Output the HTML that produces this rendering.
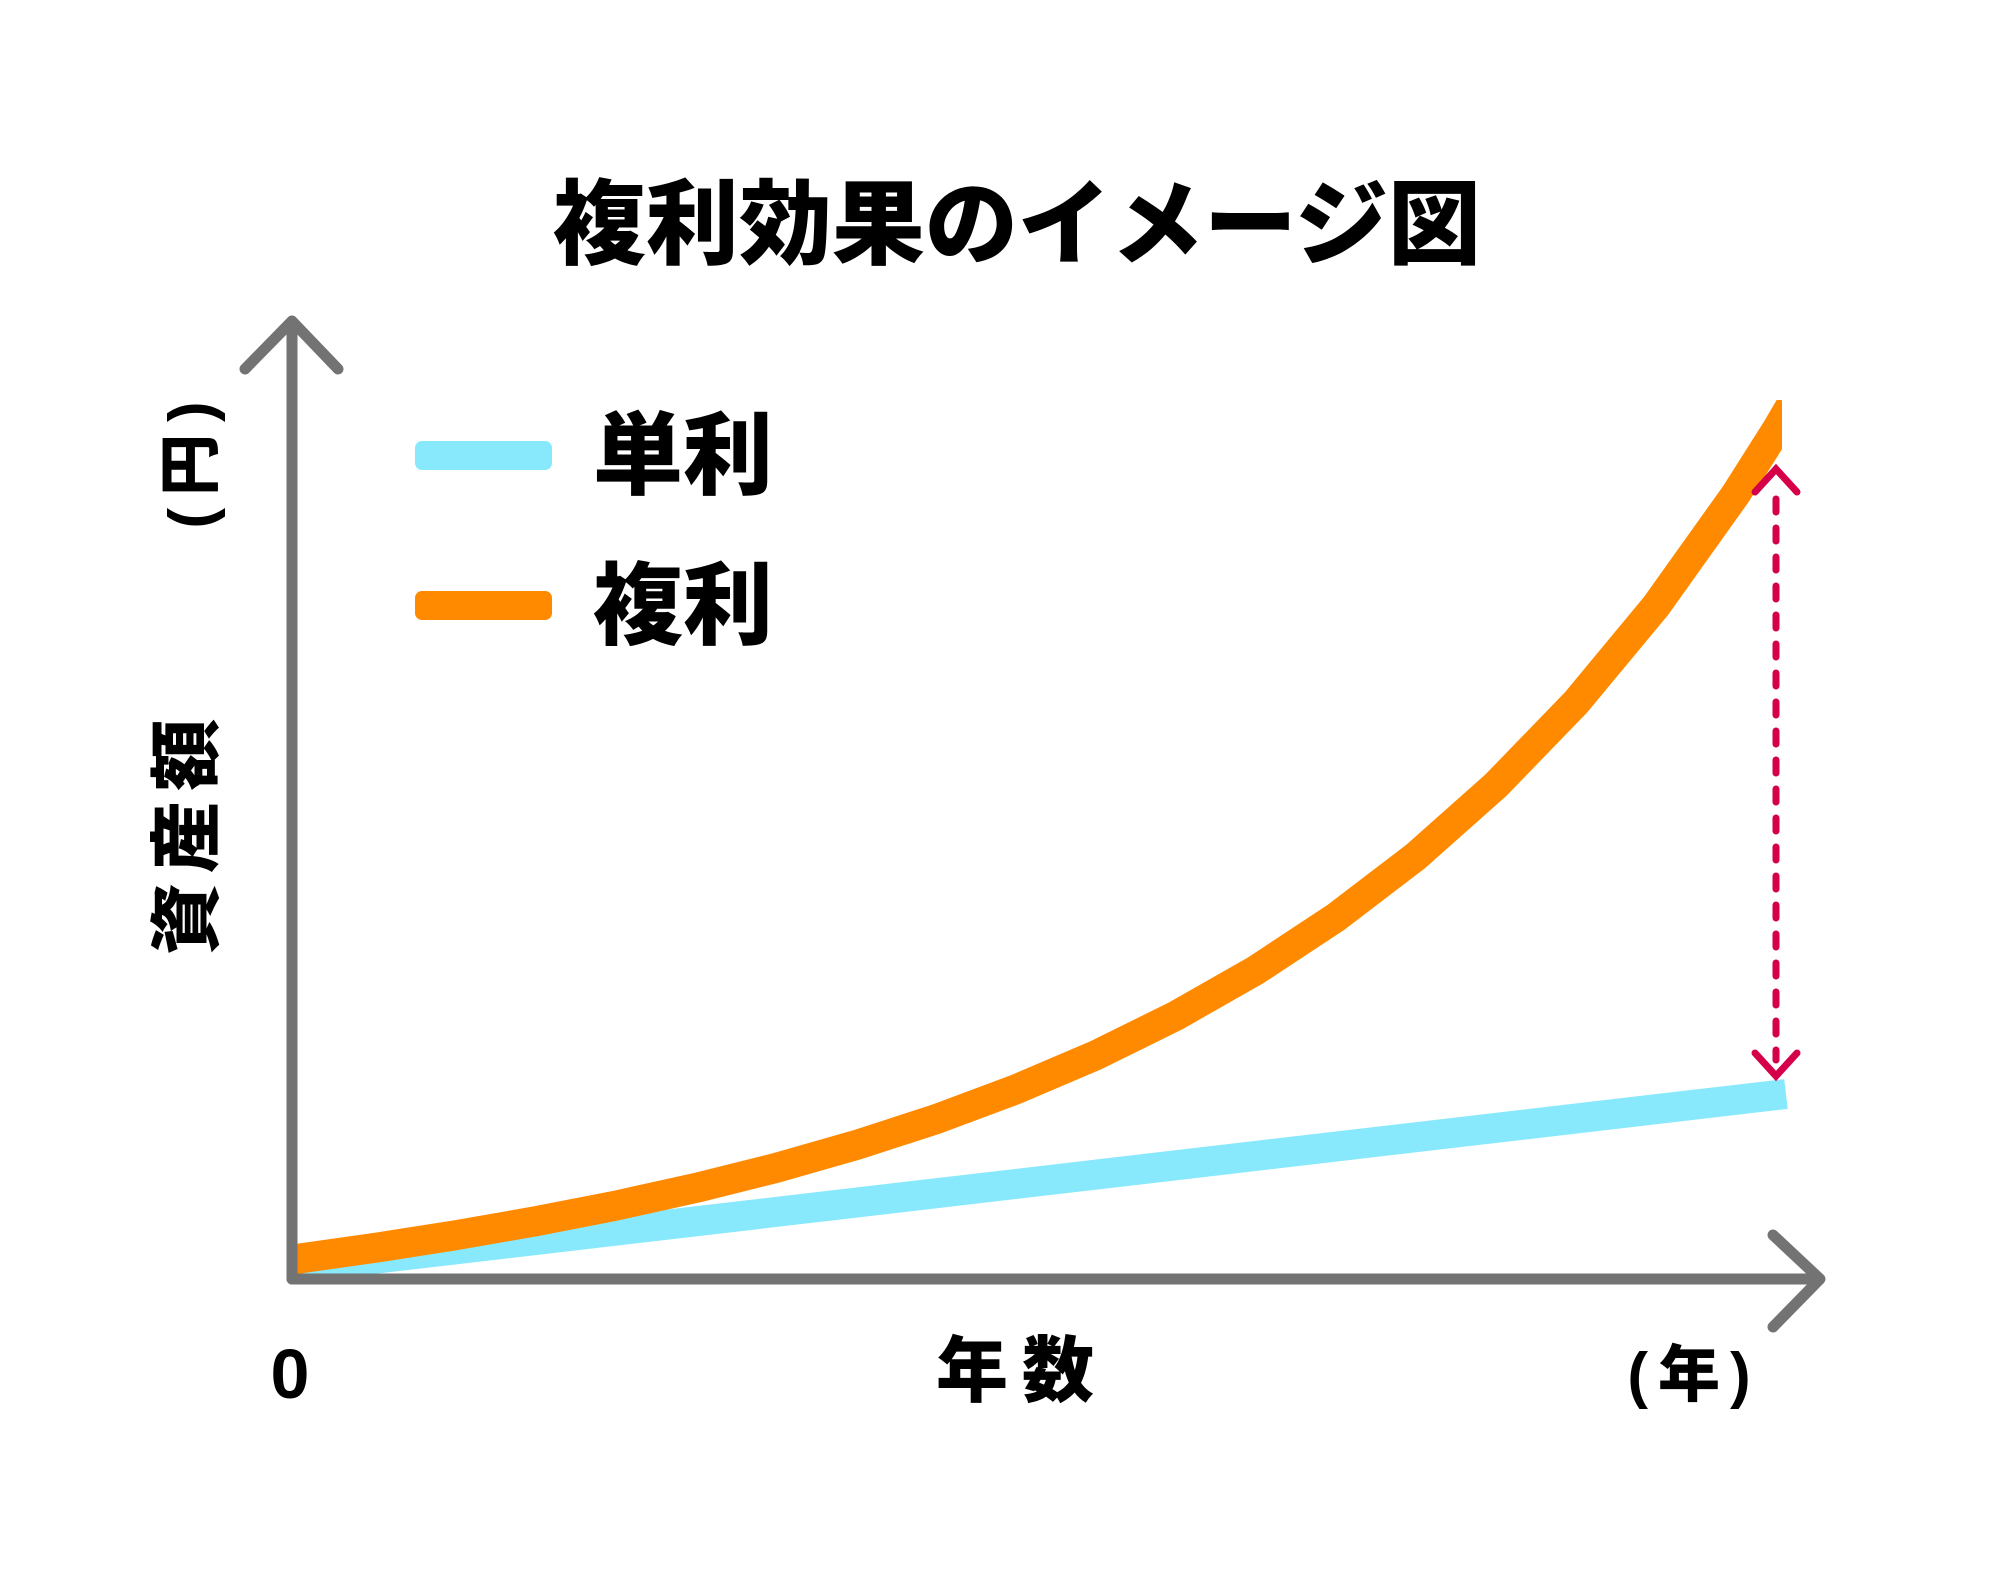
<!DOCTYPE html>
<html><head><meta charset="utf-8"><style>
html,body{margin:0;padding:0;background:#fff;}
svg{display:block;}
text{font-family:"Liberation Sans","Noto Sans CJK JP",sans-serif;font-weight:900;fill:#000;}
</style></head><body>
<svg width="2000" height="1581" viewBox="0 0 2000 1581" xmlns="http://www.w3.org/2000/svg">
<defs>
<clipPath id="c"><rect x="296" y="380" width="1494" height="900"/></clipPath>
<clipPath id="c2"><rect x="296" y="400" width="1486" height="900"/></clipPath>
</defs>
<rect width="2000" height="1581" fill="#fff"/>
<text x="1017" y="257" font-size="93" text-anchor="middle">複利効果のイメージ図</text>
<!-- series -->
<g clip-path="url(#c)">
<line x1="296" y1="1268" x2="1786" y2="1094" stroke="#89e9fc" stroke-width="30"/>
</g>
<g clip-path="url(#c2)">
<polyline points="280,1261 296,1259 376,1247.7 456,1235.2 536,1221.2 616,1205.6 696,1187.9 776,1167.9 856,1145.1 936,1119.2 1016,1089.3 1096,1055.2 1176,1015.7 1256,970.1 1336,917.3 1416,856.2 1496,785.1 1576,702.4 1656,606 1736,493.8 1776,430.7 1816,362.6" fill="none" stroke="#ff8a00" stroke-width="30" stroke-linejoin="round"/>
</g>
<!-- axes -->
<g stroke="#737373" stroke-width="11" fill="none" stroke-linecap="round" stroke-linejoin="round">
<line x1="292" y1="324" x2="292" y2="1279"/>
<line x1="292" y1="1279" x2="1818" y2="1279"/>
<polyline points="245,369 292,321 338,369"/>
<polyline points="1773,1235 1820,1279 1773,1327"/>
</g>
<!-- dashed arrow -->
<g stroke="#d6004a" stroke-width="7" fill="none" stroke-linecap="round">
<line x1="1776" y1="499" x2="1776" y2="1060" stroke-dasharray="13,16"/>
<polyline points="1755,492 1776,469 1797,492"/>
<polyline points="1755,1053 1776,1076 1797,1053"/>
</g>
<!-- legend -->
<rect x="415" y="441" width="137" height="29" rx="7" fill="#89e9fc"/>
<rect x="415" y="591" width="137" height="29" rx="7" fill="#ff8a00"/>
<text x="593" y="487" font-size="90">単利</text>
<text x="593" y="637" font-size="90">複利</text>
<!-- labels -->
<text transform="translate(212,832) rotate(-90)" font-size="72" text-anchor="middle" letter-spacing="10">資産額</text>
<text transform="translate(212,459) rotate(-90)" font-size="62" text-anchor="middle" letter-spacing="12">(円)</text>
<text x="290" y="1398" font-size="70" text-anchor="middle">0</text>
<text x="1022" y="1396" font-size="72" text-anchor="middle" letter-spacing="14">年数</text>
<text x="1694" y="1396" font-size="62" text-anchor="middle" letter-spacing="10">(年)</text>
</svg>
</body></html>
